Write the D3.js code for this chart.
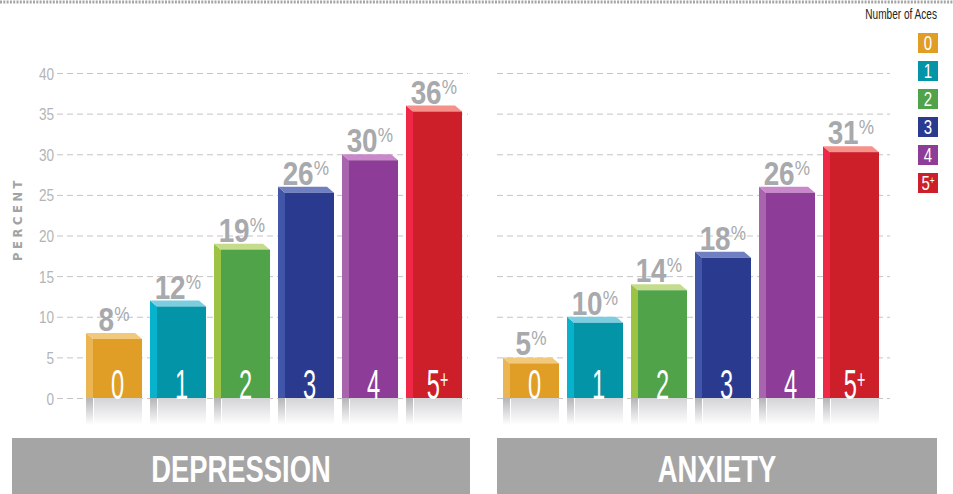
<!DOCTYPE html>
<html>
<head>
<meta charset="utf-8">
<script src="https://cdn.jsdelivr.net/npm/d3@7"></script>
<style>
  body { margin: 0; background: #fff; }
  svg { display: block; font-family: "Liberation Sans", Arial, sans-serif; }
</style>
</head>
<body>
<svg width="953" height="494"></svg>
<script>
var categories = ["0", "1", "2", "3", "4", "5+"];
var depression = [8, 12, 19, 26, 30, 36];
var anxiety = [5, 10, 14, 18, 26, 31];
var yTicks = [0, 5, 10, 15, 20, 25, 30, 35, 40];
var panelTitles = ["DEPRESSION", "ANXIETY"];
var legendTitle = "Number of Aces";

// front, side, top
var colors = [
  ["#e09e27", "#ebb552", "#f1c97c"],
  ["#0394a8", "#07b2cc", "#7ccde0"],
  ["#50a349", "#9cc344", "#c4dc8c"],
  ["#2a3a8f", "#4256a9", "#6f7fc0"],
  ["#8d3d97", "#a865ae", "#c888c9"],
  ["#cd1f29", "#ee2846", "#f4918b"]
];

var svg = d3.select("svg"),
    width = +svg.attr("width"),
    height = +svg.attr("height");

var y = d3.scaleLinear().domain([0, 40]).range([398, 73]);
var side = 7, depth = 6;

// no condensed font around, so squeeze text horizontally
function squeeze(x, y, sx) { return "translate(" + x + "," + y + ") scale(" + sx + ",1)"; }

var defs = svg.append("defs");
var g1 = defs.append("linearGradient").attr("id", "refl").attr("x1", 0).attr("y1", 0).attr("x2", 0).attr("y2", 1);
g1.append("stop").attr("offset", "0%").attr("stop-color", "#d3d4d6");
g1.append("stop").attr("offset", "100%").attr("stop-color", "#ffffff");
var g2 = defs.append("linearGradient").attr("id", "reflSide").attr("x1", 0).attr("y1", 0).attr("x2", 0).attr("y2", 1);
g2.append("stop").attr("offset", "0%").attr("stop-color", "#b4b5b8");
g2.append("stop").attr("offset", "100%").attr("stop-color", "#ffffff");

// top dotted rule
svg.append("line")
    .attr("x1", 0).attr("x2", width)
    .attr("y1", 2).attr("y2", 2)
    .style("stroke", "#a5a5a5")
    .style("stroke-width", 3)
    .style("stroke-dasharray", "2,1.3");

// percent label
svg.append("text")
    .attr("transform", "translate(22,219) rotate(-90)")
    .attr("text-anchor", "middle")
    .style("font-family", "'DejaVu Sans', sans-serif")
    .style("font-size", "11.5px")
    .style("font-weight", "bold")
    .style("letter-spacing", "3.6px")
    .style("fill", "#a3a3a3")
    .text("PERCENT");

var panels = [
  { data: depression, range: [86, 462], grid: [57, 468], axis: true, box: [12, 470] },
  { data: anxiety, range: [503, 879], grid: [497, 890], axis: false, box: [497, 937] }
];

panels.forEach(function(p, pi) {
  var x = d3.scaleBand().domain(categories).range(p.range).paddingInner(0.125).paddingOuter(0);
  var bw = x.bandwidth();

  // gridlines
  var axis = d3.axisLeft(y).tickValues(yTicks)
      .tickSize(-(p.grid[1] - p.grid[0]))
      .tickPadding(3)
      .tickFormat(p.axis ? d3.format("d") : "");
  var ax = svg.append("g")
      .attr("transform", "translate(" + p.grid[0] + ",0)")
      .call(axis);
  ax.select(".domain").remove();
  ax.selectAll(".tick line")
      .style("stroke", "#c4c4c4")
      .style("stroke-dasharray", "6,4");
  ax.selectAll(".tick text")
      .attr("x", null).attr("dy", null)
      .attr("transform", squeeze(-3, 6, 0.8))
      .style("font-size", "17px")
      .style("fill", "#b4b4b4");

  var bars = svg.append("g").selectAll("g")
      .data(p.data)
      .enter().append("g");

  // reflections
  bars.append("rect")
      .attr("x", function(d, i) { return x(categories[i]); })
      .attr("y", y(0))
      .attr("width", side)
      .attr("height", 27)
      .style("fill", "url(#reflSide)");
  bars.append("rect")
      .attr("x", function(d, i) { return x(categories[i]) + side + 1; })
      .attr("y", y(0))
      .attr("width", bw - side - 1)
      .attr("height", 27)
      .style("fill", "url(#refl)");

  // side face
  bars.append("path")
      .attr("d", function(d, i) {
        var x0 = x(categories[i]);
        return "M" + x0 + "," + y(d) + "L" + (x0 + side) + "," + (y(d) + depth) +
               "L" + (x0 + side) + "," + y(0) + "L" + x0 + "," + y(0) + "Z";
      })
      .style("fill", function(d, i) { return colors[i][1]; });
  // top face
  bars.append("path")
      .attr("d", function(d, i) {
        var x0 = x(categories[i]);
        return "M" + x0 + "," + y(d) + "L" + (x0 + bw - side) + "," + y(d) +
               "L" + (x0 + bw) + "," + (y(d) + depth) + "L" + (x0 + side) + "," + (y(d) + depth) + "Z";
      })
      .style("fill", function(d, i) { return colors[i][2]; });
  // front face
  bars.append("rect")
      .attr("x", function(d, i) { return x(categories[i]) + side; })
      .attr("y", function(d) { return y(d) + depth; })
      .attr("width", bw - side)
      .attr("height", function(d) { return y(0) - y(d) - depth; })
      .style("fill", function(d, i) { return colors[i][0]; });

  // category label inside bar
  var cl = bars.append("text")
      .attr("transform", function(d, i) {
        return squeeze(x(categories[i]) + side + (bw - side) / 2, y(0) + 1, 0.55);
      })
      .attr("text-anchor", "middle")
      .style("font-size", "43px")
      .style("fill", "#fff");
  cl.append("tspan").text(function(d, i) { return categories[i].replace("+", ""); });
  cl.append("tspan")
      .attr("dy", -11)
      .style("font-size", "26px")
      .text(function(d, i) { return categories[i].indexOf("+") >= 0 ? "+" : ""; });

  // value labels
  var vl = bars.append("text")
      .attr("transform", function(d, i) { return squeeze(x(categories[i]) + bw / 2, y(d) - 2, 0.82); })
      .attr("text-anchor", "middle")
      .style("font-weight", "bold")
      .style("fill", "#a7a9ac");
  vl.append("tspan").style("font-size", "34px").style("letter-spacing", "-0.5px").text(function(d) { return d; });
  vl.append("tspan").attr("dy", -10).attr("dx", 1).style("font-size", "21px").style("font-weight", "normal").text("%");

  // title box
  svg.append("rect")
      .attr("x", p.box[0]).attr("y", 438)
      .attr("width", p.box[1] - p.box[0]).attr("height", height - 438)
      .style("fill", "#a5a5a5");
  svg.append("text")
      .attr("transform", squeeze((p.box[0] + p.box[1]) / 2, 482, 0.74))
      .attr("text-anchor", "middle")
      .style("font-weight", "bold")
      .style("font-size", "37px")
      .style("fill", "#fff")
      .text(panelTitles[pi]);
});

// legend
svg.append("text")
    .attr("transform", squeeze(937, 19, 0.72))
    .attr("text-anchor", "end")
    .style("font-size", "14px")
    .style("fill", "#222")
    .text(legendTitle);

var ly = d3.scalePoint().domain(categories).range([33, 173]);
var leg = svg.append("g").selectAll("g")
    .data(categories)
    .enter().append("g")
    .attr("transform", function(d) { return "translate(918," + ly(d) + ")"; });
leg.append("rect")
    .attr("width", 20).attr("height", 20)
    .style("fill", function(d, i) { return colors[i][0]; });
var lt = leg.append("text")
    .attr("transform", squeeze(10, 17, 0.75))
    .attr("text-anchor", "middle")
    .style("font-size", "20px")
    .style("fill", "#fff");
lt.append("tspan").text(function(d) { return d.replace("+", ""); });
lt.append("tspan").attr("dy", -6).style("font-size", "11px").text(function(d) { return d.indexOf("+") >= 0 ? "+" : ""; });
</script>
</body>
</html>
